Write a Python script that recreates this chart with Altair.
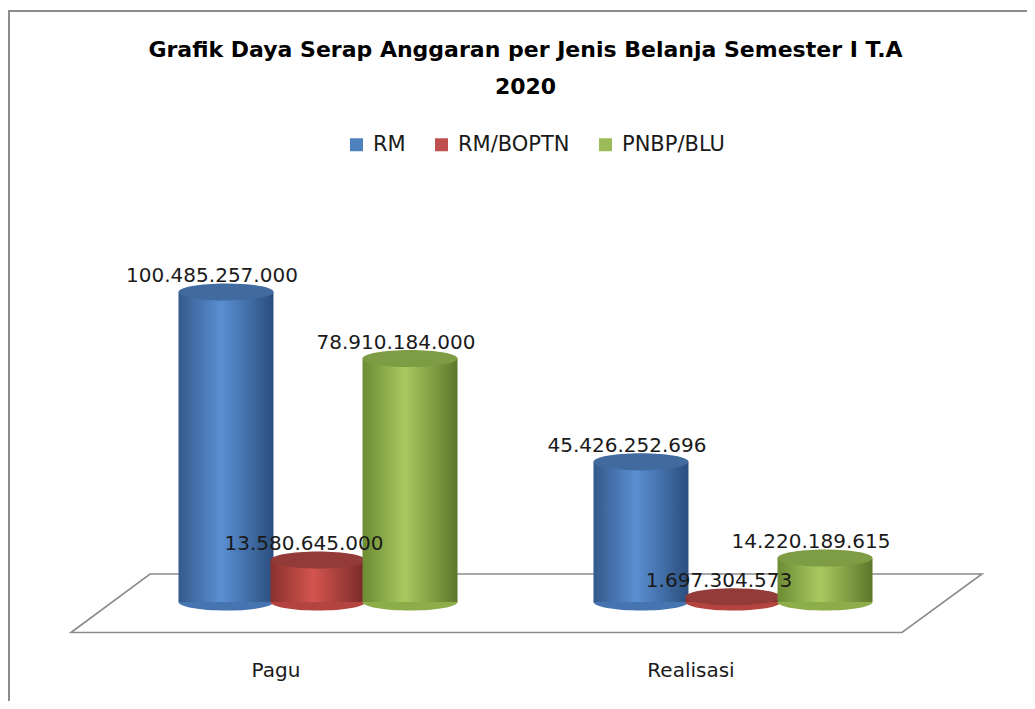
import altair as alt
import pandas as pd

categories = ["Pagu", "Realisasi"]
series = ["RM", "RM/BOPTN", "PNBP/BLU"]
pagu = [100485257000, 13580645000, 78910184000]
realisasi = [45426252696, 1697304573, 14220189615]
legend_colors = ["#4f81bd", "#c0504d", "#9bbb59"]

rows = []
for cat, vals in zip(categories, [pagu, realisasi]):
    for s, v in zip(series, vals):
        rows.append({"kategori": cat, "seri": s, "nilai": v, "nol": 0,
                     "label": f"{v:,}".replace(",", ".")})
df = pd.DataFrame(rows)

body_grad = {
    "RM": ["#34598b", "#5a8fd3", "#2b4e7d"],
    "RM/BOPTN": ["#8a302d", "#d4554f", "#78292a"],
    "PNBP/BLU": ["#6d8c34", "#a9c95f", "#5c772b"],
}
base_col = {"RM": "#4574b0", "RM/BOPTN": "#b4443f", "PNBP/BLU": "#8dac4a"}
cap_col = {"RM": "#416a9f", "RM/BOPTN": "#923b38", "PNBP/BLU": "#7e9c43"}


def grad(c):
    return alt.LinearGradient(
        gradient="linear", x1=0, x2=1, y1=0, y2=0,
        stops=[alt.GradientStop(color=c[0], offset=0),
               alt.GradientStop(color=c[1], offset=0.45),
               alt.GradientStop(color=c[2], offset=1)])


ELL = "M-1,0A1,0.18,0,1,1,1,0A1,0.18,0,1,1,-1,0Z"
BAR_W = 95
FLOOR = "M-39.5,462.5L39.5,404L871.5,404L791.5,462.5Z"
FRAME = "M-101.5,700L-101.5,-159L920,-159"

X = alt.X("kategori:N", sort=categories,
          scale=alt.Scale(domain=categories, paddingInner=0, paddingOuter=0),
          axis=alt.Axis(title=None, domain=False, ticks=False, labelAngle=0,
                        labelFont="DejaVu Sans", labelFontSize=20,
                        labelColor="#1a1a1a", labelPadding=58, labelOffset=-42))
XO = alt.XOffset("seri:N", sort=series,
                 scale=alt.Scale(domain=series, paddingInner=0, paddingOuter=0.755))
Y = alt.Y("nilai:Q", scale=alt.Scale(domain=[0, 140e9]), axis=None)
Y0 = alt.Y("nol:Q", scale=alt.Scale(domain=[0, 140e9]), axis=None)

base = alt.Chart(df)
one = base.transform_filter((alt.datum.seri == "RM") & (alt.datum.kategori == "Pagu"))

layers = [
    one.mark_point(shape=FLOOR, size=4, filled=False, stroke="#8c8c8c",
                   strokeWidth=1.6, opacity=1, fill="white")
       .encode(x=alt.value(0), y=alt.value(0)),
    one.mark_point(shape=FRAME, size=4, filled=False, stroke="#8c8c8c",
                   strokeWidth=2, opacity=1, fillOpacity=0)
       .encode(x=alt.value(0), y=alt.value(0)),
]

for s in series:
    sub = base.transform_filter(alt.datum.seri == s)
    layers.append(sub.mark_point(shape=ELL, size=BAR_W * BAR_W, filled=True,
                                 color=base_col[s], opacity=1, strokeWidth=0)
                  .encode(x=X, xOffset=XO, y=Y0))
    layers.append(sub.mark_bar(color=grad(body_grad[s]), size=BAR_W)
                  .encode(x=X, xOffset=XO, y=Y))
    layers.append(sub.mark_point(shape=ELL, size=BAR_W * BAR_W, filled=True,
                                 color=cap_col[s], opacity=1, strokeWidth=0)
                  .encode(x=X, xOffset=XO, y=Y))

legend_layer = base.mark_square(opacity=0, size=10).encode(
    x=X, xOffset=XO, y=Y,
    color=alt.Color("seri:N", sort=series,
                    scale=alt.Scale(domain=series, range=legend_colors),
                    legend=alt.Legend(orient="none", legendX=235.5, legendY=-36,
                                      direction="horizontal", title=None,
                                      symbolType="square", symbolSize=169,
                                      symbolOpacity=1, symbolStrokeWidth=0,
                                      labelFont="DejaVu Sans", labelFontSize=21,
                                      labelColor="#1a1a1a", labelOffset=6,
                                      columnPadding=25, padding=0)))
layers.append(legend_layer)

text_layer = base.mark_text(font="DejaVu Sans", fontSize=20, dx=-14, dy=-10,
                            baseline="alphabetic", align="center",
                            color="#1a1a1a").encode(x=X, xOffset=XO, y=Y, text="label:N")
layers.append(text_layer)

chart = alt.layer(*layers).properties(
    width=830, height=432,
    background="white",
    autosize=alt.AutoSizeParams(type="none"),
    padding={"left": 102.5, "top": 162, "right": 86.5, "bottom": 99},
    title=alt.TitleParams(
        text=["Grafik Daya Serap Anggaran per Jenis Belanja Semester I T.A", "2020"],
        anchor="middle", font="DejaVu Sans", fontSize=22, fontWeight="bold",
        color="black", lineHeight=37, offset=-92),
).configure_view(stroke=None, strokeWidth=0)

chart.save("out.html", embed_options={"renderer": "svg", "actions": False})
